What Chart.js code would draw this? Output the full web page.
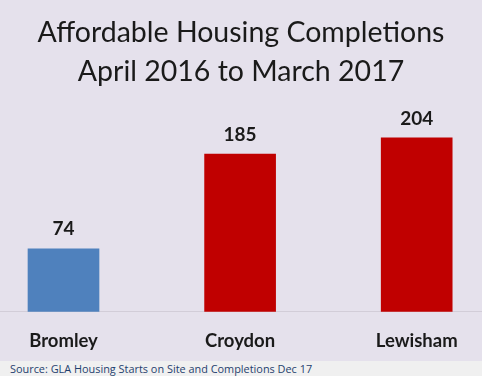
<!DOCTYPE html>
<html>
<head>
<meta charset="utf-8">
<script src="https://cdn.jsdelivr.net/npm/chart.js@4.4.1/dist/chart.umd.min.js"></script>
<style>
  html, body { margin:0; padding:0; background:#e5e1ec; width:482px; height:376px; overflow:hidden; }
  #wrap { width:482px; height:376px; position:relative; }
  #source { position:absolute; left:0; top:361px; width:482px; height:15px; background:#f0f0f0; color:#1f3f6e; font-family:"Open Sans", sans-serif; font-size:10.9px; line-height:15px; padding-left:10px; box-sizing:border-box; white-space:nowrap; }
</style>
</head>
<body>
<div id="wrap"><canvas id="c" width="482" height="376"></canvas>
<div id="source">Source: GLA Housing Starts on Site and Completions Dec 17</div></div>
<script>
const categories = ["Bromley", "Croydon", "Lewisham"];
const completions = [74, 185, 204];
const barColors = ["#4f81bd", "#c00000", "#c00000"];
const titleLines = ["Affordable Housing Completions", "April 2016 to March 2017"];

const valueLabels = {
  id: 'valueLabels',
  afterDatasetsDraw(chart) {
    const ctx = chart.ctx;
    const meta = chart.getDatasetMeta(0);
    ctx.save();
    ctx.font = 'bold 19px Lato, sans-serif';
    ctx.fillStyle = '#1a1a1a';
    ctx.textAlign = 'center';
    ctx.textBaseline = 'bottom';
    meta.data.forEach((el, i) => {
      ctx.fillText(String(completions[i]), el.x, el.y - 10);
    });
    ctx.restore();
  }
};

new Chart(document.getElementById('c'), {
  type: 'bar',
  data: {
    datasets: [{
      data: categories.map((c, i) => ({ x: i, y: completions[i] })),
      backgroundColor: barColors,
      borderWidth: 0,
      barThickness: 71
    }]
  },
  options: {
    responsive: false,
    animation: false,
    layout: { padding: { top: 13, left: 0, right: 0, bottom: 6 } },
    plugins: {
      legend: { display: false },
      tooltip: { enabled: false },
      title: {
        display: true,
        text: titleLines,
        color: '#1a1a1a',
        font: { family: 'Lato, sans-serif', size: 28.5, weight: 'normal', lineHeight: 1.38 },
        padding: { top: 0, bottom: 7 }
      }
    },
    scales: {
      x: {
        type: 'linear',
        offset: false,
        min: -0.3596,
        max: 2.3698,
        grid: { display: false, drawTicks: false },
        border: { display: true, color: '#d2cdd8', width: 1 },
        ticks: {
          stepSize: 1,
          includeBounds: false,
          autoSkip: false,
          maxRotation: 0,
          padding: 18,
          color: '#1a1a1a',
          font: { family: 'Lato, sans-serif', size: 18.5, weight: 'bold' },
          callback: (v) => (Number.isInteger(v) && categories[v] !== undefined) ? categories[v] : ''
        }
      },
      y: {
        display: false,
        min: 0,
        max: 250
      }
    }
  },
  plugins: [valueLabels]
});
</script>
</body>
</html>
